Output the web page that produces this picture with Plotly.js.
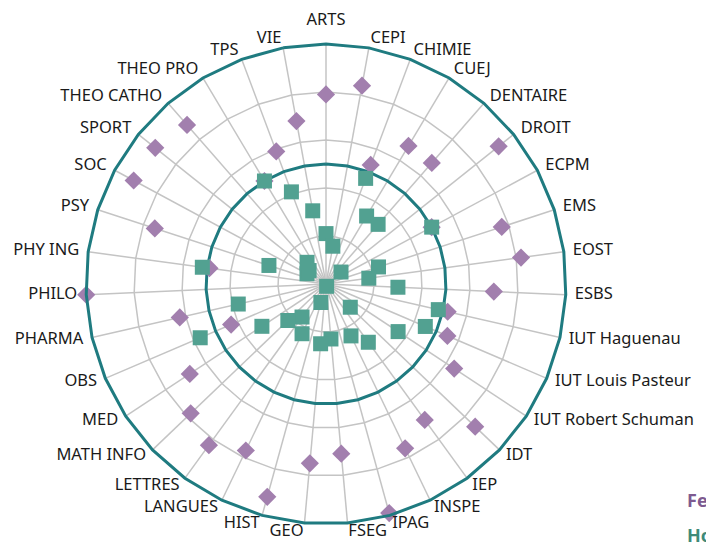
<!DOCTYPE html>
<html>
<head>
<meta charset="utf-8">
<script src="https://cdn.plot.ly/plotly-3.0.1.min.js"></script>
<style>html,body{margin:0;padding:0;background:#fff;}#chart{width:706px;height:544px;}</style>
</head>
<body>
<div id="chart"></div>
<script>
const categories = ["ARTS","CEPI","CHIMIE","CUEJ","DENTAIRE","DROIT","ECPM","EMS","EOST","ESBS",
  "IUT Haguenau","IUT Louis Pasteur","IUT Robert Schuman","IDT","IEP","INSPE","IPAG","FSEG","GEO","HIST",
  "LANGUES","LETTRES","MATH INFO","MED","OBS","PHARMA","PHILO","PHY ING","PSY","SOC",
  "SPORT","THEO CATHO","THEO PRO","TPS","VIE"];
const femmes = [79,84,53,67,67,92,50,77,82,70,
  52,55,64,86,70,76,99,71,75,92,
  77,83,78,68,43,62.5,100,49,75,91,
  91,88,50,59,69];
const hommes = [21,16,47,33,33,8,50,23,18,30,
  48,45,36,14,30,24,1,23,25,8,
  23,17,22,32,57,37.5,0,52,25,9,
  9,12,50,41,31];
const paritySeuil = 50;
const rMax = 100;
const seriesNames = ["Femmes","Hommes"];

const teal = "#1f7b80";
const purple = "#a27fae";
const green = "#52a191";
const fontFam = "Noto Sans, Open Sans, sans-serif";

const ringTheta = categories.concat([categories[0]]);
const ringR = ringTheta.map(() => paritySeuil);

// label placement: anchored by side of the circle (computed from the angle)
const nCat = categories.length;
const labelCos = categories.map((c, i) => Math.cos((90 - i * 360 / nCat) * Math.PI / 180));
const labelPos = labelCos.map(c => Math.abs(c) < 0.01 ? "top center" : (c > 0 ? "middle right" : "middle left"));
const labelPad = labelCos.map(c => Math.abs(c) < 0.01 ? 8 : 0);
const labelR = categories.map(() => rMax);

const data = [
  {type:"scatterpolar", r:ringR, theta:ringTheta, mode:"lines",
   line:{color:teal, width:3}, hoverinfo:"skip", showlegend:false},
  {type:"scatterpolar", r:femmes, theta:categories, mode:"markers", name:seriesNames[0],
   marker:{symbol:"diamond", size:14, color:purple, line:{width:0}}, showlegend:false},
  {type:"scatterpolar", r:hommes, theta:categories, mode:"markers", name:seriesNames[1],
   marker:{symbol:"square", size:15, color:green, line:{width:0}}, showlegend:false},
  // category labels (real text) on a label ring subplot
  {type:"scatterpolar", subplot:"polar2", r:labelR, theta:categories, mode:"markers+text",
   text:categories, textposition:labelPos, cliponaxis:false,
   textfont:{family:fontFam, size:16.5, color:"#1a1a1a"},
   marker:{size:labelPad, opacity:0}, hoverinfo:"skip", showlegend:false}
];

const W = 498, H = 498; // plot area in px
const inner = [9/W, 489/W];
const layout = {
  width:706, height:544,
  margin:{l:77, r:131, t:35, b:11},
  paper_bgcolor:"#fff",
  font:{family:fontFam, size:16.5, color:"#1a1a1a"},
  showlegend:false,
  polar:{
    domain:{x:inner, y:inner},
    bgcolor:"#fff",
    gridshape:"linear",
    radialaxis:{range:[0,rMax], tickvals:[20,40,60,80,100], showticklabels:false,
      showline:false, ticks:"", gridcolor:"#c4c4c4", gridwidth:1.5},
    angularaxis:{type:"category", categoryarray:categories, direction:"clockwise", rotation:90,
      showline:true, linecolor:teal, linewidth:3, gridcolor:"#c4c4c4", gridwidth:1.5,
      ticks:"", showticklabels:false}
  },
  polar2:{
    domain:{x:[0,1], y:[0,1]},
    bgcolor:"rgba(0,0,0,0)",
    gridshape:"circular",
    radialaxis:{range:[0,rMax], visible:false, showgrid:false},
    angularaxis:{type:"category", categoryarray:categories, direction:"clockwise", rotation:90,
      showline:false, showgrid:false, ticks:"", showticklabels:false}
  },
  annotations:[
    {text:"<b>"+seriesNames[0]+"</b>", xref:"paper", yref:"paper", x:(685-77)/W, y:(533-500)/H,
     xanchor:"left", yanchor:"middle", showarrow:false, font:{size:18, color:"#7d5a90", family:fontFam}},
    {text:"<b>"+seriesNames[1]+"</b>", xref:"paper", yref:"paper", x:(685-77)/W, y:(533-535)/H,
     xanchor:"left", yanchor:"middle", showarrow:false, font:{size:18, color:"#3f8a79", family:fontFam}}
  ]
};

Plotly.newPlot("chart", data, layout, {displayModeBar:false, staticPlot:true});
</script>
</body>
</html>
